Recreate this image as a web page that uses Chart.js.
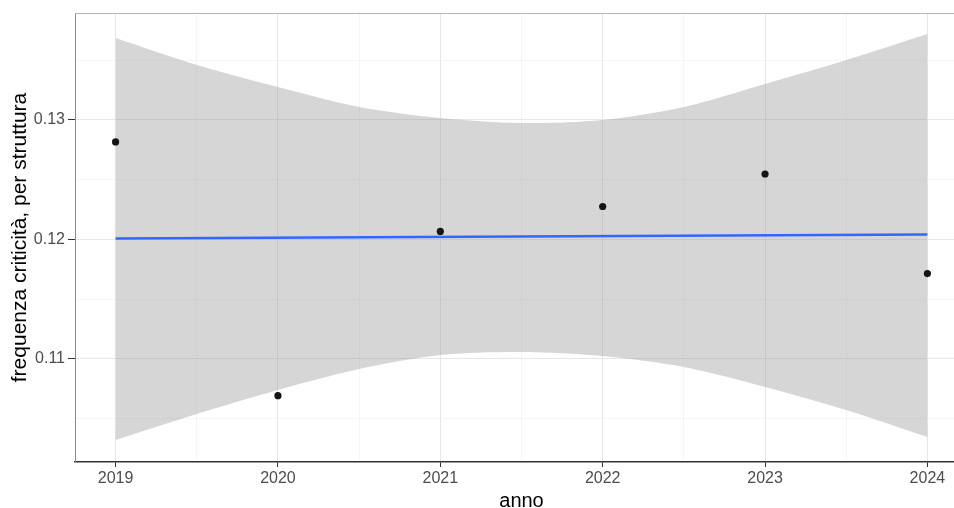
<!DOCTYPE html>
<html lang="it">
<head>
    <meta charset="UTF-8">
    <title>frequenza criticità per anno</title>
    <script src="https://cdn.jsdelivr.net/npm/chart.js@4.4.1/dist/chart.umd.min.js"></script>
    <style>
        html, body { margin: 0; padding: 0; background: #fff; overflow: hidden; }
        .plot { position: relative; width: 972px; height: 508px; }
    </style>
</head>
<body>
    <div class="plot">
        <canvas id="chart"></canvas>
    </div>
    <script>
        // osservazioni annuali
        const years = [2019, 2020, 2021, 2022, 2023, 2024];
        const freq = [0.12816, 0.10693, 0.12067, 0.12276, 0.12548, 0.11715];

        // retta di regressione (estremi)
        const fitYears = [2019, 2024];
        const fitValues = [0.12008, 0.12042];

        // banda di confidenza
        const bandYears = [2019, 2019.5, 2020, 2020.5, 2021, 2021.5, 2022, 2022.5, 2023, 2023.5, 2024];
        const bandUpper = [0.13686, 0.13460, 0.13276, 0.13109, 0.13017, 0.12975, 0.13000, 0.13109, 0.13301, 0.13502, 0.13720];
        const bandLower = [0.10322, 0.10540, 0.10741, 0.10916, 0.11033, 0.11059, 0.11025, 0.10933, 0.10766, 0.10573, 0.10347];

        // tacche e griglia
        const xMajor = [2019, 2020, 2021, 2022, 2023, 2024];
        const xMinor = [2019.5, 2020.5, 2021.5, 2022.5, 2023.5];
        const yMajor = [0.11, 0.12, 0.13];
        const yMinor = [0.105, 0.115, 0.125, 0.135];

        const xRange = [2018.75, 2024.25];
        const yRange = [0.10138, 0.13895];

        const pts = (xs, ys) => xs.map((x, i) => ({x: x, y: ys[i]}));
        const isMajor = (list, v) => list.some(m => Math.abs(m - v) < 1e-9);

        function tickSetter(major, minor) {
            return function(scale) {
                scale.ticks = major.concat(minor).sort((a, b) => a - b).map(v => ({value: v}));
            };
        }

        const family = '"Liberation Sans", Arial, sans-serif';
        const tickFont = {family: family, size: 16};

        // riquadro superiore del pannello
        const panelFrame = {
            id: 'panelFrame',
            afterDraw(chart) {
                const {ctx, chartArea: a} = chart;
                ctx.save();
                ctx.strokeStyle = '#b5b5b5';
                ctx.lineWidth = 1;
                ctx.beginPath();
                ctx.moveTo(a.left, a.top + 0.5);
                ctx.lineTo(a.right, a.top + 0.5);
                ctx.stroke();
                ctx.restore();
            }
        };

        const ctx = document.getElementById('chart').getContext('2d');
        const myChart = new Chart(ctx, {
            type: 'scatter',
            data: {
                datasets: [
                    {
                        label: 'sup',
                        type: 'line',
                        data: pts(bandYears, bandUpper),
                        borderWidth: 0,
                        pointRadius: 0,
                        tension: 0.3,
                        fill: false,
                        order: 3
                    },
                    {
                        label: 'inf',
                        type: 'line',
                        data: pts(bandYears, bandLower),
                        borderWidth: 0,
                        pointRadius: 0,
                        tension: 0.3,
                        fill: '-1',
                        backgroundColor: 'rgba(153, 153, 153, 0.4)',
                        order: 2
                    },
                    {
                        label: 'fit',
                        type: 'line',
                        data: pts(fitYears, fitValues),
                        borderColor: '#3366ff',
                        borderWidth: 2.6,
                        pointRadius: 0,
                        fill: false,
                        order: 1
                    },
                    {
                        label: 'freq',
                        data: pts(years, freq),
                        pointRadius: 3.6,
                        pointBackgroundColor: '#151515',
                        pointBorderWidth: 0,
                        order: 0
                    }
                ]
            },
            options: {
                responsive: true,
                maintainAspectRatio: false,
                animation: false,
                layout: { padding: { top: 13, right: 0, left: 0, bottom: 0 } },
                plugins: {
                    legend: { display: false },
                    tooltip: { enabled: false }
                },
                scales: {
                    x: {
                        type: 'linear',
                        min: xRange[0],
                        max: xRange[1],
                        afterBuildTicks: tickSetter(xMajor, xMinor),
                        afterFit: s => { s.height = 46; },
                        grid: {
                            color: c => isMajor(xMajor, c.tick.value) ? '#e6e6e6' : '#f3f3f3',
                            lineWidth: c => isMajor(xMajor, c.tick.value) ? 1 : 0.8,
                            tickColor: c => isMajor(xMajor, c.tick.value) ? '#333333' : 'rgba(0,0,0,0)',
                            tickLength: 5
                        },
                        border: { color: '#333333', width: 1.4 },
                        ticks: {
                            autoSkip: false,
                            maxRotation: 0,
                            padding: 2,
                            color: '#4d4d4d',
                            font: tickFont,
                            callback: v => isMajor(xMajor, v) ? String(v) : ''
                        },
                        title: {
                            display: true,
                            text: 'anno',
                            color: '#000000',
                            font: {family: family, size: 20, lineHeight: 1},
                            padding: { top: 0, bottom: -3 }
                        }
                    },
                    y: {
                        type: 'linear',
                        min: yRange[0],
                        max: yRange[1],
                        afterBuildTicks: tickSetter(yMajor, yMinor),
                        afterFit: s => { s.width = 75; },
                        grid: {
                            color: c => isMajor(yMajor, c.tick.value) ? '#e6e6e6' : '#f3f3f3',
                            lineWidth: c => isMajor(yMajor, c.tick.value) ? 1 : 0.8,
                            tickColor: c => isMajor(yMajor, c.tick.value) ? '#333333' : 'rgba(0,0,0,0)',
                            tickLength: 7
                        },
                        border: { color: '#8c8c8c', width: 1 },
                        ticks: {
                            autoSkip: false,
                            padding: 3,
                            color: '#4d4d4d',
                            font: tickFont,
                            callback: v => isMajor(yMajor, v) ? v.toFixed(2) : ''
                        },
                        title: {
                            display: true,
                            text: 'frequenza criticità, per struttura',
                            color: '#000000',
                            font: {family: family, size: 21},
                            padding: { top: 8, bottom: 0 }
                        }
                    }
                }
            },
            plugins: [panelFrame]
        });
    </script>
</body>
</html>
